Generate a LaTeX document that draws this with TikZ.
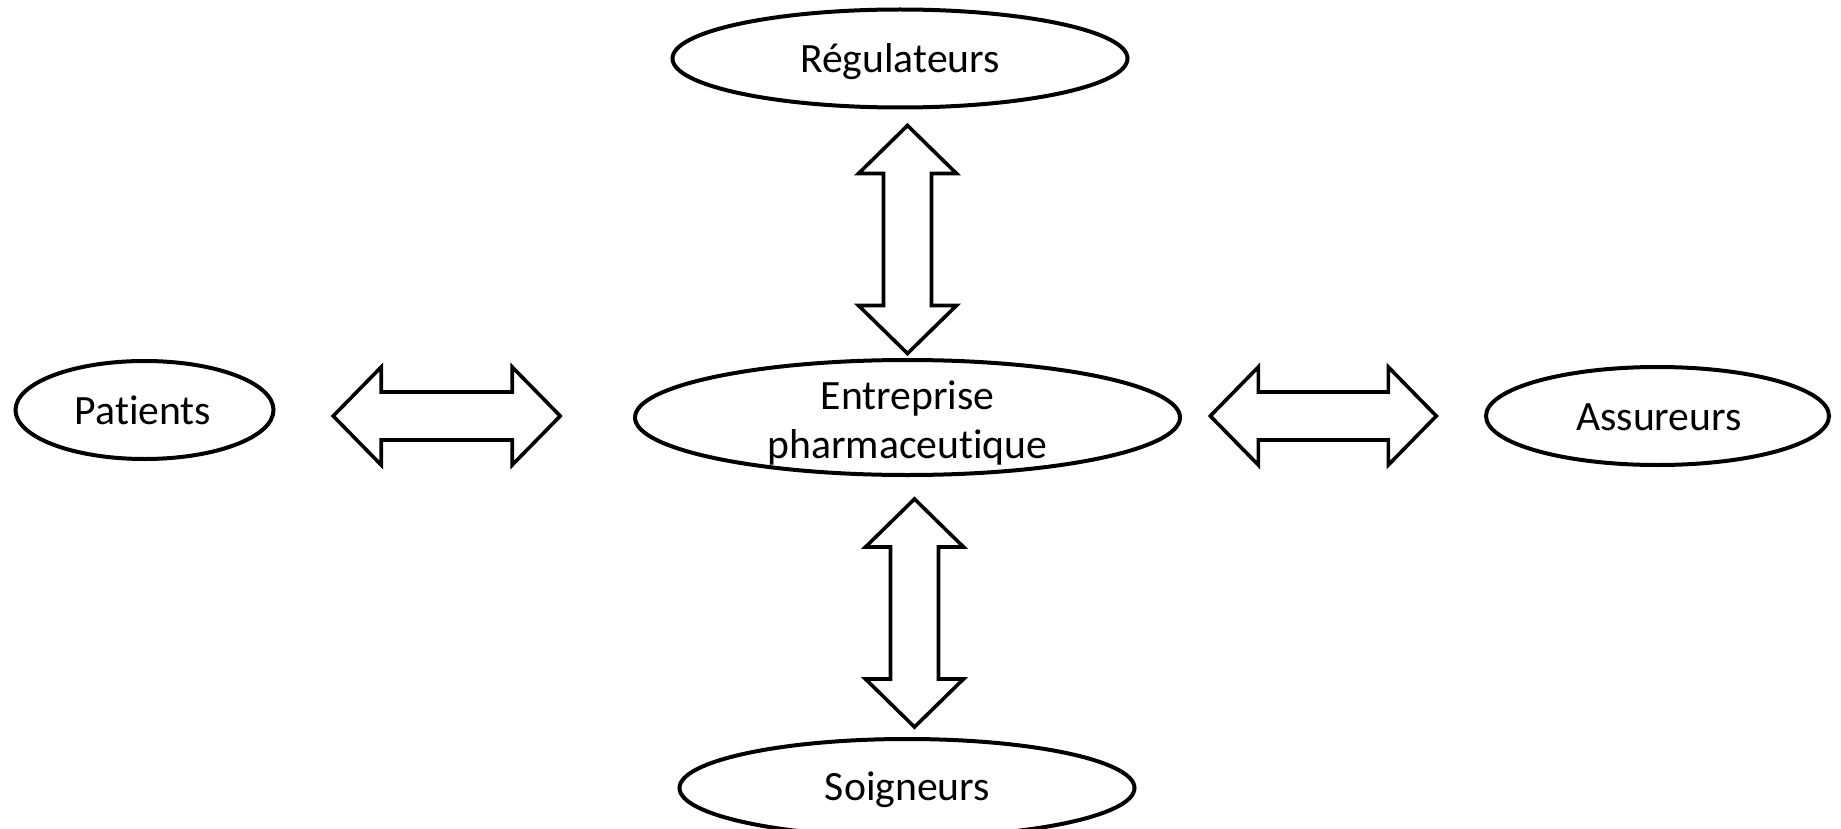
\documentclass[tikz,border=0pt]{standalone}
\usepackage{fontspec}
\setmainfont{Carlito}[Ligatures=NoCommon]
\usetikzlibrary{shapes.geometric}

\tikzset{
  actor/.style={draw=black, line width=4pt, ellipse, inner sep=0pt, fill=white},
  actortext/.style={font=\fontsize{41.7}{49}\selectfont, align=center, inner sep=0pt},
  blockarrow/.style={draw=black, line width=3.6pt, fill=white, line join=miter},
  % horizontal double block arrow centred at the origin, half length #1
  pics/dblarrow/.style={code={
    \draw[blockarrow] (-#1,0) -- (-#1+48,49) -- (-#1+48,24) -- (#1-48,24)
      -- (#1-48,49) -- (#1,0) -- (#1-48,-49) -- (#1-48,-24) -- (-#1+48,-24)
      -- (-#1+48,-49) -- cycle;
  }}
}

\begin{document}
\begin{tikzpicture}[x=1pt, y=-1pt]
  \clip (0,0) rectangle (1841,829);
  \fill[white] (0,0) rectangle (1841,829);

  % stakeholders
  \node[actor, minimum width=455pt, minimum height=98pt] (reg) at (900,58.5) {};
  \node[actortext] at (900,61.5) {Régulateurs};

  \node[actor, minimum width=545pt, minimum height=115pt] (ent) at (907.5,417.5) {};
  \node[actortext] at (907.5,423) {Entreprise\\pharmaceutique};

  \node[actor, minimum width=455pt, minimum height=98pt] (soi) at (907,788) {};
  \node[actortext] at (907.5,789.5) {Soigneurs};

  \node[actor, minimum width=258pt, minimum height=98pt] (pat) at (144.5,410) {};
  \node[actortext] at (143,410) {Patients};

  \node[actor, minimum width=343pt, minimum height=98pt] (ass) at (1657.5,416) {};
  \node[actortext] at (1659,417) {Assureurs};

  % exchanges with the company
  \pic (apat) at (446.7,416) {dblarrow=113.5};
  \pic (aass) at (1323.3,416) {dblarrow=113};
  \pic[rotate=90] (areg) at (907.5,239.5) {dblarrow=114};
  \pic[rotate=90] (asoi) at (914.5,613) {dblarrow=114};
\end{tikzpicture}
\end{document}
